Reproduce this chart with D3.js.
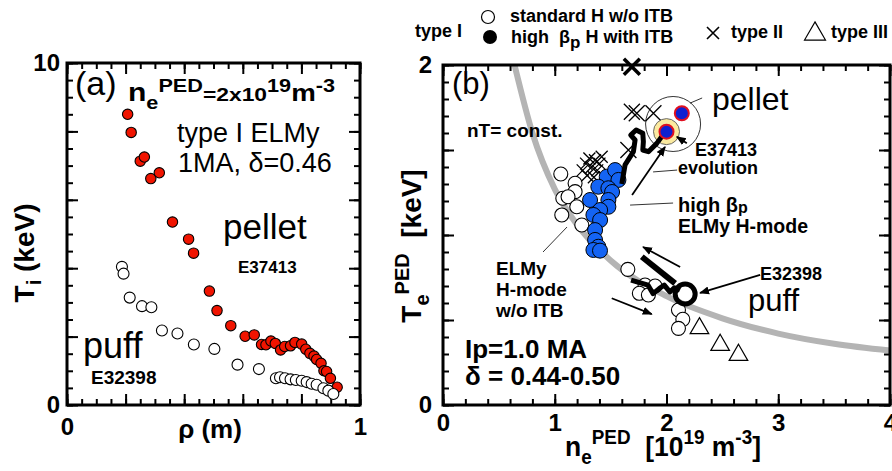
<!DOCTYPE html>
<html lang="en">
<head>
  <meta charset="utf-8">
  <title>Ti profiles and pedestal n-T diagram</title>
  <script src="https://d3js.org/d3.v7.min.js"></script>
  <style>
    body { margin: 0; background: #fff; }
    svg { display: block; font-family: "Liberation Sans", Arial, sans-serif; }
    text { white-space: pre; fill: #000; }
    .axis path.domain { display: none; }
    .axis line { stroke: #000; stroke-width: 2; }
    .lab text { font-family: "Liberation Sans", Arial, sans-serif; font-weight: bold; font-size: 24px; }
    .b { font-weight: bold; }
  </style>
</head>
<body>
<script>
  // ---- panel (a): Ti profiles (rho [m], Ti [keV]) ----
  const pelletRho = [0.207, 0.219, 0.25, 0.264, 0.286, 0.315, 0.36, 0.415, 0.432, 0.486, 0.512, 0.559,
    0.608, 0.639, 0.664, 0.679, 0.696, 0.711, 0.729, 0.743, 0.763, 0.778, 0.801, 0.815, 0.829, 0.843,
    0.852, 0.867, 0.877, 0.886, 0.899, 0.922];
  const pelletTi = [8.5, 7.97, 7.13, 7.25, 6.62, 6.79, 5.35, 4.85, 4.44, 3.33, 2.76, 2.32,
    2.01, 2.05, 1.77, 1.76, 1.87, 1.80, 1.61, 1.71, 1.73, 1.83, 1.78, 1.63, 1.51, 1.43,
    1.33, 1.22, 1.0, 0.98, 0.78, 0.52];
  const puffRho = [0.1875, 0.193, 0.214, 0.256, 0.288, 0.324, 0.377, 0.433, 0.503, 0.582, 0.655,
    0.713, 0.727, 0.744, 0.763, 0.781, 0.801, 0.818, 0.835, 0.852, 0.875, 0.892, 0.909];
  const puffTi = [4.04, 3.84, 3.14, 2.89, 2.86, 2.18, 2.09, 1.77, 1.64, 1.18, 1.05,
    0.78, 0.81, 0.78, 0.75, 0.73, 0.71, 0.67, 0.62, 0.59, 0.49, 0.42, 0.32];

  // ---- panel (b): pedestal ne [1e19 m-3] vs Te [keV] ----
  const stdN = [1.054, 1.182, 1.072, 1.182, 1.119, 1.197, 1.063, 1.242, 1.654, 1.808, 1.898, 1.757, 1.838, 2.107, 2.146, 2.107];
  const stdT = [1.359, 1.304, 1.216, 1.255, 1.225, 1.166, 1.118, 1.059, 0.798, 0.706, 0.700, 0.657, 0.647, 0.559, 0.504, 0.451];
  const itbN = [1.465, 1.540, 1.570, 1.390, 1.480, 1.513, 1.316, 1.480, 1.480, 1.406, 1.346, 1.406, 1.361, 1.361, 1.390, 1.346, 1.405];
  const itbT = [1.343, 1.382, 1.324, 1.284, 1.275, 1.253, 1.206, 1.206, 1.166, 1.147, 1.118, 1.088, 1.029, 0.971, 0.931, 0.912, 0.908];
  const type2N = [1.69, 1.69, 1.734, 1.883, 1.659, 1.25, 1.28, 1.31, 1.33, 1.36, 1.38, 1.29, 1.35, 1.40, 1.42];
  const type2T = [1.99, 1.725, 1.716, 1.716, 1.50, 1.38, 1.42, 1.45, 1.40, 1.44, 1.38, 1.35, 1.34, 1.42, 1.46];
  const type3N = [2.295, 2.48, 2.644];
  const type3T = [0.451, 0.353, 0.294];
  const curveN = [0.64, 0.8, 1.0, 1.2, 1.5, 2.0, 2.5, 3.0, 3.5, 4.0];
  const curveT = [2.0, 1.6, 1.27, 1.06, 0.85, 0.64, 0.51, 0.42, 0.36, 0.32];
  const pelletEvoN = [1.60, 1.629, 1.704, 1.719, 1.680, 1.728, 1.788, 1.793, 1.788, 1.838, 1.913, 1.99];
  const pelletEvoT = [1.30, 1.412, 1.490, 1.559, 1.588, 1.618, 1.598, 1.549, 1.500, 1.490, 1.539, 1.608];
  const puffEvoN = [1.683, 1.835, 1.88, 1.935, 1.98, 2.03, 2.07, 2.12];
  const puffEvoT = [0.735, 0.705, 0.655, 0.685, 0.705, 0.665, 0.69, 0.675];
  const puffBarN = [1.779, 2.077];
  const puffBarT = [0.872, 0.716];

  const W = 892, H = 471;
  const svg = d3.select("body").append("svg").attr("width", W).attr("height", H);
  const defs = svg.append("defs");
  defs.append("marker").attr("id", "arr").attr("viewBox", "0 0 10 10")
    .attr("refX", 9).attr("refY", 5).attr("markerWidth", 10).attr("markerHeight", 10)
    .attr("markerUnits", "userSpaceOnUse").attr("orient", "auto")
    .append("path").attr("d", "M0,1 L10,5 L0,9 Z").attr("fill", "#000");

  // text with sub/superscripts; parts = [text, size, baseline offset]
  function rich(sel, x, y, parts, anchor, bold) {
    const t = sel.append("text").attr("x", x).attr("y", y)
      .attr("text-anchor", anchor || "start")
      .style("font-weight", bold === false ? "normal" : "bold");
    let cur = 0;
    parts.forEach(p => {
      const off = p[2] || 0;
      t.append("tspan").attr("dy", off - cur).style("font-size", p[1] + "px").text(p[0]);
      cur = off;
    });
    return t;
  }

  function frame(x, y, xMajor, xMinor, yMajor, yMinor) {
    const g = svg.append("g");
    const [x0, x1] = x.range(), [y0, y1] = y.range();
    const sides = [
      [d3.axisBottom, x, `translate(0,${y0})`, xMajor, xMinor],
      [d3.axisTop, x, `translate(0,${y1})`, xMajor, xMinor],
      [d3.axisLeft, y, `translate(${x0},0)`, yMajor, yMinor],
      [d3.axisRight, y, `translate(${x1},0)`, yMajor, yMinor]
    ];
    sides.forEach(([ax, sc, tr, major, minor]) => {
      g.append("g").attr("class", "axis").attr("transform", tr)
        .call(ax(sc).tickValues(minor).tickSize(-6).tickFormat(""));
      g.append("g").attr("class", "axis").attr("transform", tr)
        .call(ax(sc).tickValues(major).tickSize(-11).tickFormat(""));
    });
    g.append("rect").attr("x", x0).attr("y", y1).attr("width", x1 - x0).attr("height", y0 - y1)
      .attr("fill", "none").attr("stroke", "#000").attr("stroke-width", 3);
    return g;
  }

  // ================= panel (a) =================
  const xA = d3.scaleLinear().domain([0, 1]).range([67, 360]);
  const yA = d3.scaleLinear().domain([0, 10]).range([405, 63]);

  frame(xA, yA, d3.range(0, 1.001, 0.2), d3.range(0, 1.001, 0.05), d3.range(0, 10.01, 2), d3.range(0, 10.01, 0.5));

  svg.append("g").attr("class", "lab").attr("transform", `translate(${xA.range()[0]},0)`)
    .call(d3.axisLeft(yA).tickValues([0, 10]).tickSize(0).tickPadding(7).tickFormat(d3.format("d")))
    .select(".domain").remove();
  svg.append("g").attr("class", "lab").attr("transform", `translate(0,${yA.range()[0]})`)
    .call(d3.axisBottom(xA).tickValues([0, 1]).tickSize(0).tickPadding(13).tickFormat(d3.format("d")))
    .select(".domain").remove();

  svg.append("g").selectAll("circle").data(d3.range(pelletRho.length)).join("circle")
    .attr("cx", i => xA(pelletRho[i])).attr("cy", i => yA(pelletTi[i])).attr("r", 5.2)
    .attr("fill", "#f01400").attr("stroke", "#000").attr("stroke-width", 1.1);
  svg.append("g").selectAll("circle").data(d3.range(puffRho.length)).join("circle")
    .attr("cx", i => xA(puffRho[i])).attr("cy", i => yA(puffTi[i])).attr("r", 5.5)
    .attr("fill", "#fff").attr("stroke", "#000").attr("stroke-width", 1.1);

  svg.append("text").attr("x", 75).attr("y", 95).style("font-size", "34px").text("(a)");
  rich(svg, 128, 101, [["n", 25, 0], ["e", 18, 8], ["PED", 18, -9], ["=2x10", 19, 0], ["19", 18, -9], ["m", 23, 0], ["-3", 18, -9]])
    .attr("textLength", 207).attr("lengthAdjust", "spacingAndGlyphs");
  svg.append("text").attr("x", 177).attr("y", 142).style("font-size", "27px").text("type I ELMy");
  svg.append("text").attr("x", 178).attr("y", 172).style("font-size", "27px").text("1MA, \u03b4=0.46");
  svg.append("text").attr("x", 223).attr("y", 239).style("font-size", "35px").text("pellet");
  svg.append("text").attr("x", 238).attr("y", 273).attr("class", "b").style("font-size", "17px").text("E37413");
  svg.append("text").attr("x", 83).attr("y", 358).style("font-size", "36px").text("puff");
  svg.append("text").attr("x", 91).attr("y", 384).attr("class", "b").style("font-size", "19px").text("E32398");

  svg.append("text").attr("x", 210).attr("y", 438).attr("text-anchor", "middle").attr("class", "b")
    .style("font-size", "26px").text("\u03c1 (m)");
  const ya = svg.append("g").attr("transform", "translate(34,253) rotate(-90)");
  rich(ya, 0, 0, [["T", 28, 0], ["i", 20, 7], [" (keV)", 28, 0]], "middle");

  // ================= panel (b) =================
  const xB = d3.scaleLinear().domain([0, 4]).range([443, 890]);
  const yB = d3.scaleLinear().domain([0, 2]).range([405, 65]);

  const line = d3.line().x(d => xB(d[0])).y(d => yB(d[1]));
  const curveLine = d3.line().x(d => xB(d[0])).y(d => yB(d[1])).curve(d3.curveMonotoneX);

  svg.append("path").datum(curveN.map((n, i) => [n, curveT[i]])).attr("d", curveLine)
    .attr("fill", "none").attr("stroke", "#b4b4b4").attr("stroke-width", 6);

  frame(xB, yB, d3.range(0, 4.001, 1), d3.range(0, 4.001, 0.2), d3.range(0, 2.001, 0.5), d3.range(0, 2.001, 0.1));

  svg.append("g").attr("class", "lab").attr("transform", `translate(${xB.range()[0]},0)`)
    .call(d3.axisLeft(yB).tickValues([0, 2]).tickSize(0).tickPadding(11).tickFormat(d3.format("d")))
    .select(".domain").remove();
  svg.append("g").attr("class", "lab").attr("transform", `translate(0,${yB.range()[0]})`)
    .call(d3.axisBottom(xB).tickValues([0, 1, 2, 3, 4]).tickSize(0).tickPadding(9).tickFormat(d3.format("d")))
    .select(".domain").remove();

  // standard H-mode without ITB
  svg.append("g").selectAll("circle").data(d3.range(stdN.length)).join("circle")
    .attr("cx", i => xB(stdN[i])).attr("cy", i => yB(stdT[i])).attr("r", 7)
    .attr("fill", "#fff").attr("stroke", "#000").attr("stroke-width", 1.1);

  // type II ELMs
  svg.append("g").selectAll("path").data(d3.range(type2N.length)).join("path")
    .attr("transform", i => `translate(${xB(type2N[i])},${yB(type2T[i])})`)
    .attr("d", i => { const s = i < 5 ? 8 : 6; return `M${-s},${-s}L${s},${s}M${-s},${s}L${s},${-s}`; })
    .attr("stroke", "#000").attr("stroke-width", i => i === 0 ? 3.5 : 1.3).attr("fill", "none");

  // high beta_p with ITB
  svg.append("g").selectAll("circle").data(d3.range(itbN.length)).join("circle")
    .attr("cx", i => xB(itbN[i])).attr("cy", i => yB(itbT[i])).attr("r", 7.5)
    .attr("fill", "#1464f4").attr("stroke", "#000").attr("stroke-width", 1);

  // type III ELMs
  const tri = d3.symbol().type(d3.symbolTriangle).size(150);
  svg.append("g").selectAll("path").data(d3.range(type3N.length)).join("path")
    .attr("transform", i => `translate(${xB(type3N[i])},${yB(type3T[i])})`)
    .attr("d", tri).attr("fill", "#fff").attr("stroke", "#000").attr("stroke-width", 1.2);

  // pellet: E37413 evolution
  svg.append("circle").attr("cx", xB(2.059)).attr("cy", yB(1.653)).attr("r", 27.5)
    .attr("fill", "none").attr("stroke", "#000").attr("stroke-width", 0.8);
  svg.append("circle").attr("cx", xB(2.0)).attr("cy", yB(1.608)).attr("r", 13)
    .attr("fill", "#fbeaa0").attr("stroke", "#444").attr("stroke-width", 0.8);
  svg.append("path").datum(pelletEvoN.map((n, i) => [n, pelletEvoT[i]])).attr("d", line)
    .attr("fill", "none").attr("stroke", "#000").attr("stroke-width", 5).attr("stroke-linejoin", "round");
  svg.append("circle").attr("cx", xB(2.0)).attr("cy", yB(1.608)).attr("r", 7)
    .attr("fill", "#1020d0").attr("stroke", "#e01020").attr("stroke-width", 2);
  svg.append("circle").attr("cx", xB(2.137)).attr("cy", yB(1.716)).attr("r", 7)
    .attr("fill", "#1020d0").attr("stroke", "#e01020").attr("stroke-width", 2);

  // puff: E32398 evolution
  svg.append("path").datum(puffBarN.map((n, i) => [n, puffBarT[i]])).attr("d", line)
    .attr("fill", "none").attr("stroke", "#000").attr("stroke-width", 6);
  svg.append("path").datum(puffEvoN.map((n, i) => [n, puffEvoT[i]])).attr("d", line)
    .attr("fill", "none").attr("stroke", "#000").attr("stroke-width", 5).attr("stroke-linejoin", "round");
  svg.append("circle").attr("cx", xB(2.167)).attr("cy", yB(0.653)).attr("r", 10)
    .attr("fill", "none").attr("stroke", "#000").attr("stroke-width", 5);

  // arrows and leader lines (data coords: [n0, T0, n1, T1])
  const arrows = [[1.692, 1.235, 1.987, 1.518], [2.182, 1.539, 2.092, 1.578], [2.122, 0.812, 1.79, 0.929],
    [1.51, 0.628, 1.868, 0.535], [2.838, 0.765, 2.30, 0.659]];
  const leaders = [[2.211, 1.776, 2.319, 1.806], [1.88, 1.371, 2.095, 1.382], [1.674, 1.176, 2.059, 1.188],
    [0.895, 0.9, 1.11, 1.047]];
  svg.append("g").selectAll("line").data(arrows).join("line")
    .attr("x1", d => xB(d[0])).attr("y1", d => yB(d[1])).attr("x2", d => xB(d[2])).attr("y2", d => yB(d[3]))
    .attr("stroke", "#000").attr("stroke-width", 1.8).attr("marker-end", "url(#arr)");
  svg.append("g").selectAll("line").data(leaders).join("line")
    .attr("x1", d => xB(d[0])).attr("y1", d => yB(d[1])).attr("x2", d => xB(d[2])).attr("y2", d => yB(d[3]))
    .attr("stroke", "#000").attr("stroke-width", 0.8);

  // panel (b) labels
  svg.append("text").attr("x", 452).attr("y", 94).style("font-size", "31px").text("(b)");
  svg.append("text").attr("x", 467).attr("y", 137).attr("class", "b").style("font-size", "19px").text("nT= const.");
  svg.append("text").attr("x", 712).attr("y", 110).style("font-size", "32px").text("pellet");
  svg.append("text").attr("x", 695).attr("y", 156).attr("class", "b").style("font-size", "18px").text("E37413");
  svg.append("text").attr("x", 678).attr("y", 174).attr("class", "b").style("font-size", "18px").text("evolution");
  rich(svg, 678, 212, [["high \u03b2", 20, 0], ["p", 16, 1]]);
  svg.append("text").attr("x", 678).attr("y", 233).attr("class", "b").style("font-size", "19.5px").text("ELMy H-mode");
  ["ELMy", "H-mode", "w/o ITB"].forEach((s, i) => {
    svg.append("text").attr("x", 496).attr("y", 275 + i * 21).attr("class", "b").style("font-size", "19px").text(s);
  });
  svg.append("text").attr("x", 465).attr("y", 358).attr("class", "b").style("font-size", "26px").text("Ip=1.0 MA");
  svg.append("text").attr("x", 465).attr("y", 385).attr("class", "b").style("font-size", "26px").text("\u03b4 = 0.44-0.50");
  svg.append("text").attr("x", 760).attr("y", 280).attr("class", "b").style("font-size", "18px").text("E32398");
  svg.append("text").attr("x", 748).attr("y", 311).style("font-size", "31px").text("puff");

  rich(svg, 565, 456, [["n", 28, 0], ["e", 20, 8], ["PED", 20, -12], ["  [10", 28, 0], ["19", 20, -12], [" m", 28, 0], ["-3", 20, -12], ["]", 28, 0]])
    .attr("textLength", 196).attr("lengthAdjust", "spacingAndGlyphs");
  const yb = svg.append("g").attr("transform", "translate(421,246) rotate(-90)");
  rich(yb, 0, 0, [["T", 28, 0], ["e", 20, 8], ["PED", 20, -12], ["  [keV]", 28, 0]], "middle");

  // legend
  svg.append("text").attr("x", 415).attr("y", 37).attr("class", "b").style("font-size", "18px").text("type I");
  svg.append("circle").attr("cx", 488).attr("cy", 17).attr("r", 6.5).attr("fill", "#fff").attr("stroke", "#000").attr("stroke-width", 1.2);
  svg.append("text").attr("x", 510).attr("y", 22).attr("class", "b").style("font-size", "18px").text("standard H w/o ITB");
  svg.append("circle").attr("cx", 490).attr("cy", 37).attr("r", 7).attr("fill", "#000");
  rich(svg, 511, 43, [["high  \u03b2", 18, 0], ["p", 17, 5], [" H with ITB", 18, 0]]);
  svg.append("path").attr("transform", "translate(713,33)").attr("d", "M-6,-6L6,6M-6,6L6,-6")
    .attr("stroke", "#000").attr("stroke-width", 1.6);
  svg.append("text").attr("x", 731).attr("y", 38).attr("class", "b").style("font-size", "18px").text("type II");
  svg.append("path").attr("transform", "translate(815,34)").attr("d", d3.symbol().type(d3.symbolTriangle).size(190))
    .attr("fill", "#fff").attr("stroke", "#000").attr("stroke-width", 1.2);
  svg.append("text").attr("x", 831).attr("y", 38).attr("class", "b").style("font-size", "18px").text("type III");
</script>
</body>
</html>
